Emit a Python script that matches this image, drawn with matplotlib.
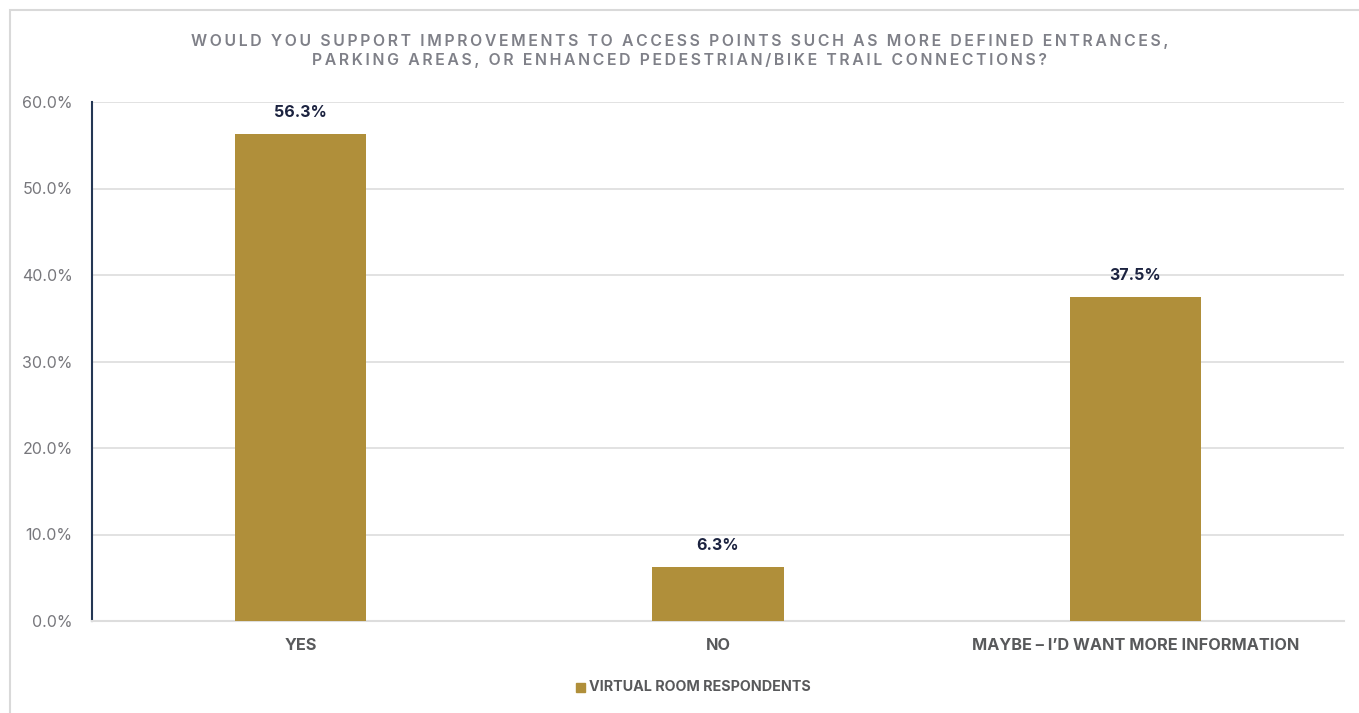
import matplotlib.pyplot as plt
from matplotlib.patches import Rectangle

categories = ["YES", "NO", "MAYBE \u2013 I\u2019D WANT MORE INFORMATION"]
values = [56.3, 6.3, 37.5]
series_name = "VIRTUAL ROOM RESPONDENTS"
title_lines = ["WOULD YOU SUPPORT IMPROVEMENTS TO ACCESS POINTS SUCH AS MORE DEFINED ENTRANCES,",
               "PARKING AREAS, OR ENHANCED PEDESTRIAN/BIKE TRAIL CONNECTIONS?"]

gold = "#B08F3A"
plt.rcParams['font.family'] = ['Inter', 'DejaVu Sans']

fig = plt.figure(figsize=(13.59, 7.13), dpi=100)
ax = fig.add_axes([92 / 1359, 1 - 621 / 713, (1344 - 92) / 1359, (621 - 102) / 713])

# outer frame of the chart box
fig.add_artist(Rectangle((10 / 1359, -0.05), 1.2, 1 - 10 / 713 + 0.05,
                         transform=fig.transFigure, fill=False,
                         edgecolor="#D9D9D9", linewidth=1.5))

x = range(len(categories))
bars = ax.bar(x, values, width=0.314, color=gold, zorder=3)
for b, v in zip(bars, values):
    ax.text(b.get_x() + b.get_width() / 2, v + 1.6, f"{v:.1f}%", ha="center", va="bottom",
            fontsize=11.5, fontweight="bold", color="#1C2340")

ax.set_xlim(-0.5, 2.5)
ax.set_ylim(0, 60)
ax.set_yticks([0, 10, 20, 30, 40, 50, 60])
ax.set_yticklabels([f"{t:.1f}%" for t in range(0, 70, 10)], fontsize=11.5, color="#77777C")
ax.set_xticks(list(x))
ax.set_xticklabels(categories, fontsize=11.7, fontweight="bold", color="#58595B")
ax.tick_params(axis="both", length=0)
ax.tick_params(axis="x", pad=12)
ax.tick_params(axis="y", pad=14)
ax.grid(axis="y", color="#DDDDDD", linewidth=1.2, zorder=0)
for s in ["top", "right"]:
    ax.spines[s].set_visible(False)
ax.spines["bottom"].set_color("#DDDDDD")
ax.spines["bottom"].set_linewidth(1.5)
ax.spines["left"].set_color("#243754")
ax.spines["left"].set_linewidth(1.5)

# letter-spaced title (thin spaces between characters)
spaced = "\n".join("\u2009".join(line) for line in title_lines)
fig.text(0.5, 1 - 51 / 713, spaced, ha="center", va="center", fontsize=11.4,
         fontweight="semibold", color="#7F8088", linespacing=1.35)

# legend
fig.add_artist(Rectangle((576 / 1359, 1 - 692 / 713), 9 / 1359, 9 / 713,
                         transform=fig.transFigure, color=gold))
fig.text(589 / 1359, 1 - 687 / 713, series_name, ha="left", va="center",
         fontsize=10.3, fontweight="bold", color="#58595B")

fig.savefig("out.png", dpi=100)
